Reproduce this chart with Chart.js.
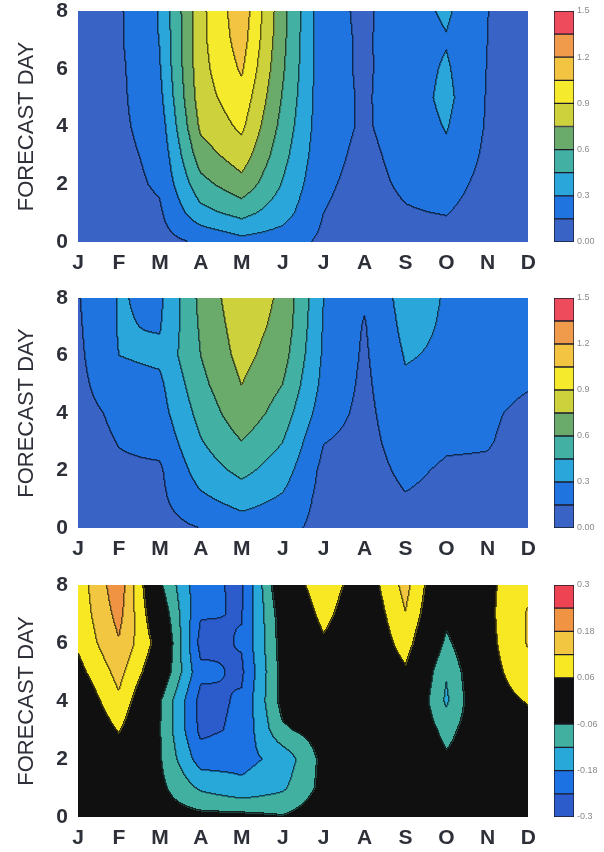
<!DOCTYPE html>
<html>
<head>
<meta charset="utf-8">
<script src="https://cdn.jsdelivr.net/npm/chart.js@4.4.1/dist/chart.umd.min.js"></script>
<style>
  body { margin: 0; background: #fff; width: 604px; height: 852px; position: relative; overflow: hidden; }
  canvas { position: absolute; }
</style>
</head>
<body>
<canvas id="plot1" width="545" height="278" style="left:0;top:0"></canvas>
<canvas id="bar1" width="59" height="278" style="left:545px;top:0"></canvas>
<canvas id="plot2" width="545" height="278" style="left:0;top:287px"></canvas>
<canvas id="bar2" width="59" height="278" style="left:545px;top:287px"></canvas>
<canvas id="plot3" width="545" height="278" style="left:0;top:574px"></canvas>
<canvas id="bar3" width="59" height="278" style="left:545px;top:574px"></canvas>
<script>
// months along x, forecast days along y (rows below go day 8 -> day 0)
const months = ['J', 'F', 'M', 'A', 'M', 'J', 'J', 'A', 'S', 'O', 'N', 'D']
const days = [8, 7, 6, 5, 4, 3, 2, 1, 0]
const dayTicks = [0, 2, 4, 6, 8]

// top panel
const grid1 = [
  [0.07, 0.13, 0.31, 0.86, 1.15, 0.65, 0.195, 0.126, 0.23, 0.325, 0.152, 0.08],
  [0.07, 0.13, 0.305, 0.86, 1.12, 0.64, 0.20, 0.13, 0.225, 0.29, 0.151, 0.08],
  [0.07, 0.12, 0.29, 0.85, 1.07, 0.62, 0.20, 0.13, 0.22, 0.319, 0.146, 0.08],
  [0.07, 0.12, 0.26, 0.83, 1.00, 0.59, 0.20, 0.135, 0.215, 0.34, 0.14, 0.08],
  [0.07, 0.12, 0.22, 0.78, 0.93, 0.55, 0.20, 0.135, 0.206, 0.31, 0.135, 0.08],
  [0.07, 0.11, 0.19, 0.68, 0.83, 0.50, 0.19, 0.12, 0.19, 0.27, 0.12, 0.08],
  [0.06, 0.10, 0.17, 0.55, 0.70, 0.44, 0.17, 0.11, 0.17, 0.21, 0.10, 0.07],
  [0.06, 0.08, 0.13, 0.40, 0.50, 0.36, 0.15, 0.10, 0.14, 0.155, 0.08, 0.07],
  [0.05, 0.07, 0.10, 0.17, 0.25, 0.22, 0.12, 0.09, 0.10, 0.10, 0.07, 0.06]
]

// middle panel
const grid2 = [
  [0.14, 0.31, 0.27, 0.64, 0.86, 0.72, 0.302, 0.165, 0.36, 0.29, 0.22, 0.20],
  [0.13, 0.31, 0.29, 0.62, 0.83, 0.70, 0.29, 0.14, 0.34, 0.285, 0.21, 0.19],
  [0.12, 0.30, 0.33, 0.60, 0.80, 0.66, 0.28, 0.13, 0.31, 0.28, 0.20, 0.18],
  [0.11, 0.25, 0.27, 0.56, 0.752, 0.60, 0.26, 0.12, 0.28, 0.26, 0.19, 0.16],
  [0.10, 0.18, 0.24, 0.50, 0.70, 0.53, 0.22, 0.11, 0.25, 0.22, 0.17, 0.12],
  [0.09, 0.155, 0.19, 0.44, 0.598, 0.452, 0.155, 0.10, 0.22, 0.17, 0.16, 0.10],
  [0.08, 0.13, 0.13, 0.37, 0.49, 0.37, 0.11, 0.09, 0.18, 0.13, 0.13, 0.09],
  [0.07, 0.11, 0.12, 0.27, 0.36, 0.28, 0.10, 0.08, 0.14, 0.11, 0.11, 0.08],
  [0.06, 0.09, 0.10, 0.152, 0.22, 0.20, 0.10, 0.08, 0.12, 0.10, 0.09, 0.07]
]

// bottom panel (difference)
const grid3 = [
  [0.085, 0.22, -0.05, -0.225, -0.25, 0.01, 0.10, 0.015, 0.14, -0.03, 0.045, 0.11],
  [0.08, 0.20, -0.01, -0.235, -0.243, -0.02, 0.08, 0.0, 0.118, -0.04, 0.045, 0.125],
  [0.07, 0.175, 0.03, -0.26, -0.235, -0.03, 0.05, -0.01, 0.09, -0.075, 0.04, 0.125],
  [0.04, 0.14, 0.0, -0.225, -0.25, -0.035, 0.02, -0.02, 0.05, -0.115, 0.035, 0.10],
  [0.0, 0.11, -0.055, -0.26, -0.232, -0.037, 0.0, -0.03, 0.03, -0.13, 0.03, 0.065],
  [-0.02, 0.065, -0.058, -0.255, -0.228, -0.07, -0.03, -0.03, 0.01, -0.08, 0.0, 0.03],
  [-0.03, 0.02, -0.055, -0.21, -0.20, -0.16, -0.04, -0.03, 0.0, -0.05, -0.02, 0.0],
  [-0.03, -0.01, -0.045, -0.13, -0.165, -0.13, -0.04, -0.02, -0.01, -0.03, -0.02, -0.02],
  [-0.03, -0.02, -0.03, -0.04, -0.04, -0.055, -0.02, -0.02, -0.01, -0.02, -0.02, -0.03]
]

// contour levels and colour bar labels
const levelsA = [0, 0.15, 0.3, 0.45, 0.6, 0.75, 0.9, 1.05, 1.2, 1.35, 1.5]
const barTicksA = [0, 0.3, 0.6, 0.9, 1.2, 1.5]
const barLabelsA = ['0.00', '0.3', '0.6', '0.9', '1.2', '1.5']
const levelsB = [-0.3, -0.24, -0.18, -0.12, -0.06, 0.06, 0.12, 0.18, 0.24, 0.3]
const barTicksB = [-0.3, -0.18, -0.06, 0.06, 0.18, 0.3]
const barLabelsB = ['-0.3', '-0.18', '-0.06', '0.06', '0.18', '0.3']

const coloursA = ['#3a63c6', '#1f74e0', '#2ba6da', '#42b0a2', '#6aab6c', '#cdd23c', '#f6ea2c', '#f2c442', '#f09a4c', '#ee4b5c']
const coloursB = ['#2c5ccc', '#1c72e2', '#27a8d8', '#42b0a0', '#101010', '#f8e824', '#f2c640', '#f09444', '#ee4352']

const textColour = '#2e3039'
const fontFamily = '"Liberation Sans", Arial, sans-serif'

function hexRgb(h) {
  const n = parseInt(h.slice(1), 16)
  return [(n >> 16) & 255, (n >> 8) & 255, n & 255]
}

// fills the plot area band by band from the grid points, through the chart scales
const contourPlugin = {
  id: 'contour',
  beforeDatasetsDraw(chart, args, opts) {
    if (!opts.levels) return
    const area = chart.chartArea
    const xs = chart.scales.x, ys = chart.scales.y
    const z = {}
    chart.data.datasets[0].data.forEach(p => {
      if (!z[p.y]) z[p.y] = {}
      z[p.y][p.x] = p.v
    })
    const value = (m, d) => {
      const m0 = Math.min(Math.max(Math.floor(m), 1), 11)
      const d0 = Math.min(Math.max(Math.floor(d), 0), 7)
      const fm = Math.min(Math.max(m - m0, 0), 1), fd = Math.min(Math.max(d - d0, 0), 1)
      const a = z[d0][m0], b = z[d0][m0 + 1], c = z[d0 + 1][m0], e = z[d0 + 1][m0 + 1]
      return (a * (1 - fm) + b * fm) * (1 - fd) + (c * (1 - fm) + e * fm) * fd
    }
    const lv = opts.levels
    const rgb = opts.colours.map(hexRgb)
    const left = Math.round(area.left), top = Math.round(area.top)
    const w = Math.round(area.right) - left, h = Math.round(area.bottom) - top
    const band = new Uint8Array(w * h)
    for (let j = 0; j < h; j++) {
      const d = ys.getValueForPixel(top + j + 0.5)
      for (let i = 0; i < w; i++) {
        const v = value(xs.getValueForPixel(left + i + 0.5), d)
        let b = 0
        for (let k = 1; k < lv.length - 1; k++) if (v >= lv[k]) b = k
        band[j * w + i] = b
      }
    }
    const off = document.createElement('canvas')
    off.width = w
    off.height = h
    const octx = off.getContext('2d')
    const img = octx.createImageData(w, h)
    const mix = (c, o, f) => [0, 1, 2].map(t => (c[t] + o[t]) * 0.5 * f)
    for (let j = 0; j < h; j++) {
      for (let i = 0; i < w; i++) {
        const idx = j * w + i
        const b = band[idx]
        let c = rgb[b]
        const r = i < w - 1 ? band[idx + 1] : b
        const dn = j < h - 1 ? band[idx + w] : b
        const l = i > 0 ? band[idx - 1] : b
        const up = j > 0 ? band[idx - w] : b
        if (r !== b || dn !== b) {
          c = mix(c, rgb[r !== b ? r : dn], 0.38)
        } else if (l !== b || up !== b) {
          c = mix(c, rgb[l !== b ? l : up], 0.72)
        }
        img.data[idx * 4] = c[0]
        img.data[idx * 4 + 1] = c[1]
        img.data[idx * 4 + 2] = c[2]
        img.data[idx * 4 + 3] = 255
      }
    }
    octx.putImageData(img, 0, 0)
    chart.ctx.drawImage(off, left, top)
  }
}

function makePlot(id, grid, levels, colours, canvasTop, plotBottom) {
  const points = []
  grid.forEach((row, r) => row.forEach((v, i) => points.push({ x: i + 1, y: days[r], v: v })))
  return new Chart(document.getElementById(id), {
    type: 'scatter',
    data: { datasets: [{ data: points, pointRadius: 0, showLine: false }] },
    options: {
      responsive: false,
      animation: false,
      events: [],
      layout: { padding: { top: 11, right: 12, left: 0, bottom: 0 } },
      plugins: {
        legend: { display: false },
        tooltip: { enabled: false },
        contour: { levels: levels, colours: colours }
      },
      scales: {
        x: {
          type: 'linear', min: 1, max: 12,
          grid: { display: false, drawTicks: false },
          border: { display: false },
          afterBuildTicks: s => { s.ticks = months.map((m, i) => ({ value: i + 1 })) },
          afterFit: s => { s.height = 278 - (plotBottom - canvasTop) },
          ticks: {
            autoSkip: false, maxRotation: 0, padding: 9, color: textColour,
            font: { family: fontFamily, size: 21, weight: 'bold' },
            callback: (v, i) => months[i]
          }
        },
        y: {
          type: 'linear', min: 0, max: 8,
          grid: { display: false, drawTicks: false },
          border: { display: false },
          afterBuildTicks: s => { s.ticks = dayTicks.map(v => ({ value: v })) },
          afterFit: s => {
            s.width = 78
            s.paddingTop = 0
            s.paddingBottom = 0
          },
          ticks: {
            padding: 10, color: textColour,
            font: { family: fontFamily, size: 21, weight: 'bold' }
          },
          title: {
            display: true, text: 'FORECAST DAY', color: textColour,
            padding: { top: 14, bottom: 0 },
            font: { family: fontFamily, size: 22 }
          }
        }
      }
    },
    plugins: [contourPlugin]
  })
}

function makeBar(id, levels, colours, ticks, labels, canvasTop, plotBottom) {
  const sets = colours.map((c, k) => ({
    data: [[levels[k], levels[k + 1]]],
    backgroundColor: c,
    borderColor: '#1c1c2c',
    borderWidth: 1,
    borderSkipped: false,
    categoryPercentage: 1,
    barPercentage: 1,
    grouped: false
  }))
  return new Chart(document.getElementById(id), {
    type: 'bar',
    data: { labels: [''], datasets: sets },
    options: {
      responsive: false,
      animation: false,
      events: [],
      layout: { padding: { top: 11, left: 9, right: 0, bottom: 278 - (plotBottom - canvasTop) } },
      plugins: { legend: { display: false }, tooltip: { enabled: false } },
      scales: {
        x: { display: false },
        y: {
          position: 'right',
          min: levels[0], max: levels[levels.length - 1],
          grid: { display: false, drawTicks: false },
          border: { display: false },
          afterBuildTicks: s => { s.ticks = ticks.map(v => ({ value: v })) },
          afterFit: s => {
            s.width = 30
            s.paddingTop = 0
            s.paddingBottom = 0
          },
          ticks: {
            padding: 3, color: '#8a8a8a',
            font: { family: fontFamily, size: 9 },
            callback: (v, i) => labels[i]
          }
        }
      }
    }
  })
}

makePlot('plot1', grid1, levelsA, coloursA, 0, 242)
makeBar('bar1', levelsA, coloursA, barTicksA, barLabelsA, 0, 242)
makePlot('plot2', grid2, levelsA, coloursA, 287, 528)
makeBar('bar2', levelsA, coloursA, barTicksA, barLabelsA, 287, 528)
makePlot('plot3', grid3, levelsB, coloursB, 574, 817)
makeBar('bar3', levelsB, coloursB, barTicksB, barLabelsB, 574, 817)
</script>
</body>
</html>
